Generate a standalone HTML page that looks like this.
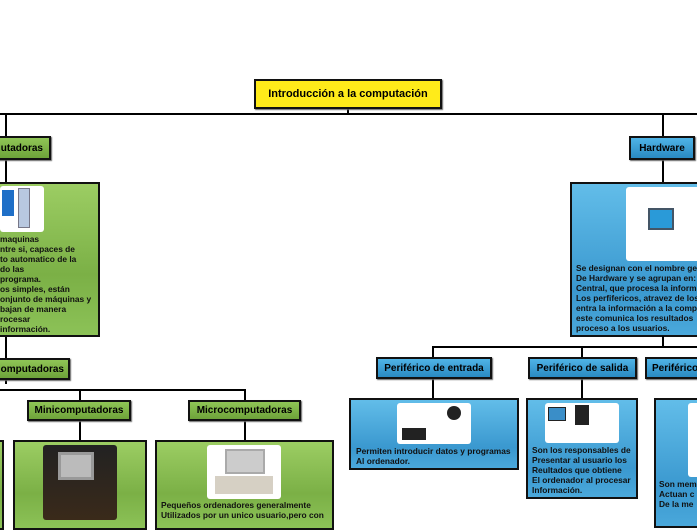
<!DOCTYPE html>
<html><head><meta charset="utf-8"><style>
body{margin:0;width:697px;height:520px;position:relative;overflow:hidden;background:#fff;font-family:"Liberation Sans",sans-serif;font-weight:bold;}
.a{position:absolute;box-sizing:border-box;}
.l{position:absolute;background:#000;}
.lab{border:2px solid #111;font-size:10px;display:flex;align-items:center;justify-content:center;white-space:nowrap;box-shadow:1px 1px 1px #666;}
.g{background:linear-gradient(#8fc556,#6ea33a);}
.b{background:linear-gradient(#4fb3e6,#2a8ac2);}
.gb{border:2px solid #111;background:linear-gradient(#9ccd63,#7bb046 60%,#8cc257);}
.bb{border:2px solid #111;background:linear-gradient(#62bde9,#3a98cf 70%,#4aa8db);}
.img{position:absolute;background:#fff;border-radius:3px;}
.t{position:absolute;font-size:8.4px;line-height:10px;color:#111;white-space:nowrap;}
</style></head><body>
<div class="l" style="left:347px;top:109px;width:2px;height:6px"></div>
<div class="l" style="left:0;top:113px;width:697px;height:2px"></div>
<div class="a lab" style="left:254px;top:79px;width:188px;height:30px;background:#ffeb1a;font-size:11px">Introducción a la computación</div>

<div class="l" style="left:5px;top:114px;width:2px;height:270px"></div>
<div class="a lab g" style="left:-20px;top:136px;width:71px;height:24px;justify-content:flex-end;padding-right:6px">utadoras</div>
<div class="a gb" style="left:-10px;top:182px;width:110px;height:155px"></div>
<div class="img" style="left:0;top:186px;width:44px;height:46px"></div>
<div class="a" style="left:2px;top:190px;width:12px;height:26px;background:#1f6fc7"></div>
<div class="a" style="left:18px;top:188px;width:12px;height:40px;background:#b8c8e0;border:1px solid #778"></div>
<div class="t" style="left:0;top:234px">maquinas<br>ntre si, capaces de<br>to automatico de la<br>do las<br>programa.<br>os simples, están<br>onjunto de máquinas y<br>bajan de manera<br>rocesar<br>información.</div>
<div class="a lab g" style="left:-20px;top:358px;width:90px;height:22px;justify-content:flex-end;padding-right:4px">omputadoras</div>
<div class="l" style="left:0;top:389px;width:246px;height:2px"></div>
<div class="l" style="left:79px;top:389px;width:2px;height:52px"></div>
<div class="l" style="left:244px;top:389px;width:2px;height:52px"></div>
<div class="a lab g" style="left:27px;top:400px;width:104px;height:21px">Minicomputadoras</div>
<div class="a lab g" style="left:188px;top:400px;width:113px;height:21px">Microcomputadoras</div>
<div class="a gb" style="left:-10px;top:440px;width:14px;height:90px"></div>
<div class="a gb" style="left:13px;top:440px;width:134px;height:90px"></div>
<div class="img" style="left:43px;top:445px;width:74px;height:75px;background:linear-gradient(#222,#3a2a1a)"></div>
<div class="a" style="left:58px;top:452px;width:36px;height:28px;background:#bbb;border:3px solid #999"></div>
<div class="a gb" style="left:155px;top:440px;width:179px;height:90px"></div>
<div class="img" style="left:207px;top:445px;width:74px;height:54px"></div>
<div class="a" style="left:225px;top:449px;width:40px;height:25px;background:#ccc;border:2px solid #aaa"></div>
<div class="a" style="left:215px;top:476px;width:58px;height:18px;background:#d6d0c4"></div>
<div class="t" style="left:161px;top:500px">Pequeños ordenadores generalmente<br>Utilizados por un unico usuario,pero con</div>

<div class="l" style="left:662px;top:114px;width:2px;height:70px"></div>
<div class="a lab b" style="left:629px;top:136px;width:66px;height:24px">Hardware</div>
<div class="a bb" style="left:570px;top:182px;width:140px;height:155px"></div>
<div class="img" style="left:626px;top:187px;width:75px;height:74px"></div>
<div class="a" style="left:648px;top:208px;width:26px;height:22px;background:#2a9ad8;border:2px solid #456"></div>
<div class="t" style="left:576px;top:263px">Se designan con el nombre ge<br>De Hardware y se agrupan en:<br>Central, que procesa la inform<br>Los perfifericos, atravez de los<br>entra la información a la comp<br>este comunica los resultados<br>proceso a los usuarios.</div>
<div class="l" style="left:662px;top:336px;width:2px;height:12px"></div>
<div class="l" style="left:432px;top:346px;width:265px;height:2px"></div>
<div class="l" style="left:432px;top:346px;width:2px;height:53px"></div>
<div class="l" style="left:581px;top:346px;width:2px;height:53px"></div>
<div class="l" style="left:697px;top:346px;width:2px;height:53px"></div>
<div class="a lab b" style="left:376px;top:357px;width:116px;height:22px">Periférico de entrada</div>
<div class="a lab b" style="left:528px;top:357px;width:109px;height:22px">Periférico de salida</div>
<div class="a lab b" style="left:645px;top:357px;width:80px;height:22px;justify-content:flex-start;padding-left:5px">Periférico</div>
<div class="a bb" style="left:349px;top:398px;width:170px;height:72px"></div>
<div class="img" style="left:397px;top:403px;width:74px;height:41px"></div>
<div class="a" style="left:402px;top:428px;width:24px;height:12px;background:#222"></div>
<div class="a" style="left:447px;top:406px;width:14px;height:14px;background:#222;border-radius:50%"></div>
<div class="t" style="left:356px;top:446px">Permiten introducir datos y programas<br>Al ordenador.</div>
<div class="a bb" style="left:526px;top:398px;width:112px;height:101px"></div>
<div class="img" style="left:545px;top:403px;width:74px;height:40px"></div>
<div class="a" style="left:548px;top:407px;width:18px;height:14px;background:#3a8ec8;border:1px solid #222"></div>
<div class="a" style="left:575px;top:405px;width:14px;height:20px;background:#222"></div>
<div class="t" style="left:532px;top:445px">Son los responsables de<br>Presentar al usuario los<br>Reultados que obtiene<br>El ordenador al procesar<br>Información.</div>
<div class="a bb" style="left:654px;top:398px;width:60px;height:130px"></div>
<div class="img" style="left:688px;top:403px;width:20px;height:74px"></div>
<div class="t" style="left:659px;top:479px">Son mem<br>Actuan c<br>De la me</div>
</body></html>
